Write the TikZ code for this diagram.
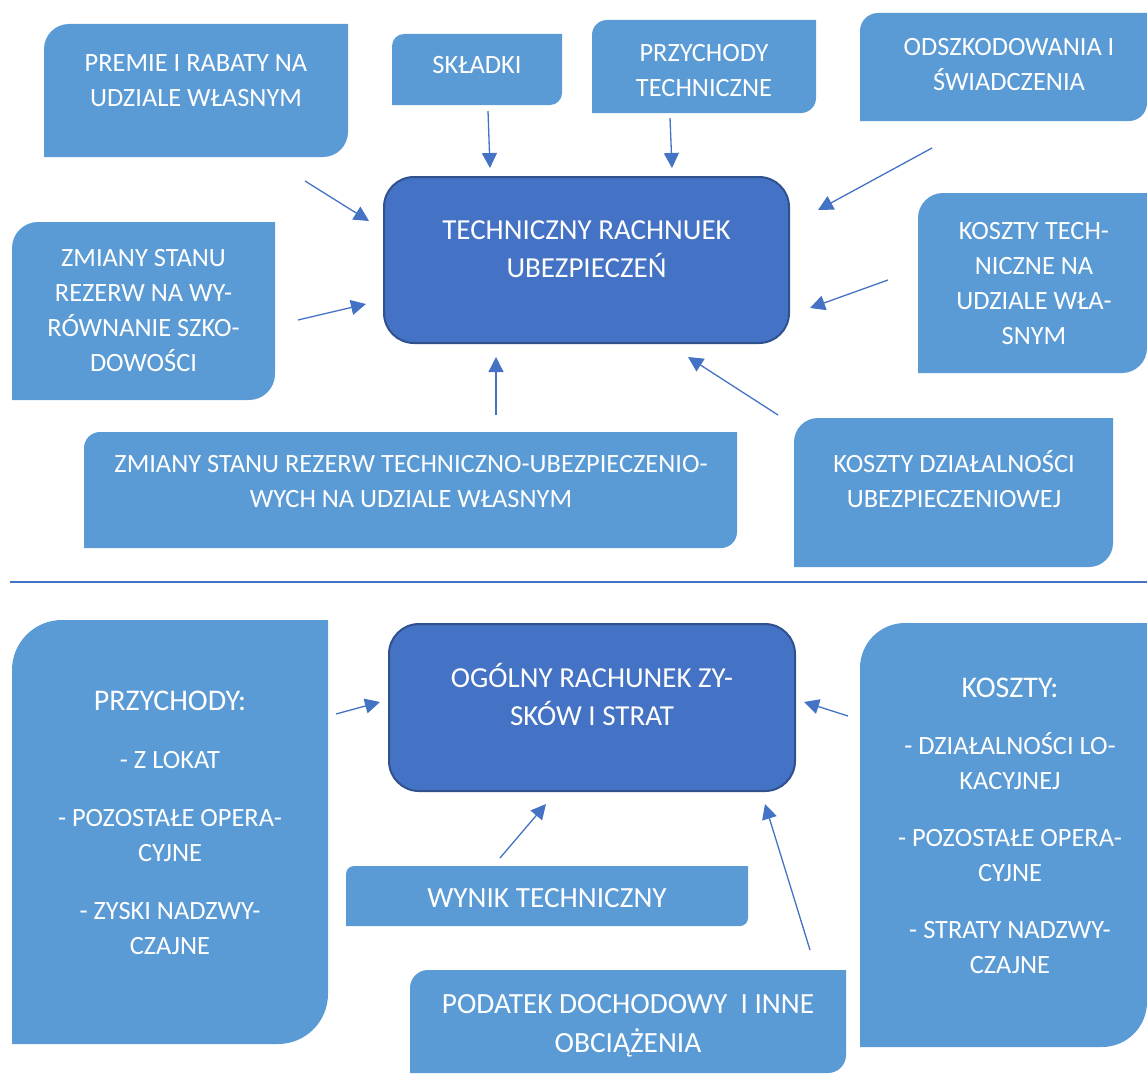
\documentclass[tikz,border=0pt]{standalone}
\usepackage{fontspec}
\setmainfont{Carlito}
\usetikzlibrary{arrows.meta}
\definecolor{boxblue}{HTML}{5B9BD5}
\definecolor{mainblue}{HTML}{4472C4}
\definecolor{edgeblue}{HTML}{2F528F}

% rectangle with rounded top-left and bottom-right corners
% #1 x1, #2 y1, #3 x2, #4 y2, #5 radius
\newcommand\diagbox[5]{%
  \fill[boxblue] (#1,#4) -- (#1,#2+#5)
    .. controls (#1,#2+0.448*#5) and (#1+0.448*#5,#2) .. (#1+#5,#2)
    -- (#3,#2) -- (#3,#4-#5)
    .. controls (#3,#4-0.448*#5) and (#3-0.448*#5,#4) .. (#3-#5,#4)
    -- cycle;}
\newcommand\fstrut{\rule{0pt}{24pt}}
\newcommand\bstrut{\rule{0pt}{26pt}}
\newcommand\headfont{\fontsize{30}{35}\selectfont}

\begin{document}
\begin{tikzpicture}[x=1pt,y=-1pt,
  lbl/.style={text=white, align=center, anchor=north, inner sep=0pt,
    font=\fontsize{26.4}{35}\selectfont},
  biglbl/.style={lbl, font=\fontsize{29.3}{39}\selectfont},
  hubtxt/.style={text=white, align=center, anchor=north, inner sep=0pt,
    font=\fontsize{29}{38.5}\selectfont},
  hub/.style={fill=mainblue, draw=edgeblue, line width=2pt, rounded corners=30pt},
  arr/.style={draw=mainblue, line width=1.3pt, -{Triangle[length=15pt,width=15pt]}}]
\useasboundingbox (0,0) rectangle (1147,1073);

% ---------- technical account ----------
\draw[hub] (384,177) rectangle (789,343);
\node[hubtxt] (tech) at (586.5,239-26) {\bstrut TECHNICZNY RACHNUEK\\UBEZPIECZEŃ};

\diagbox{44}{24}{348}{157}{25}
\node[lbl] (premie) at (196,71-24) {\fstrut PREMIE I RABATY NA\\UDZIALE WŁASNYM};

\diagbox{392}{34}{562}{105}{12}
\node[lbl] (skladki) at (477,73-24) {\fstrut SKŁADKI};

\diagbox{592}{20}{816}{113}{15}
\node[lbl] (przt) at (704,61-24) {\fstrut PRZYCHODY\\TECHNICZNE};

\diagbox{860}{13}{1147}{121}{18}
\node[lbl] (odsz) at (1009,55-24) {\fstrut ODSZKODOWANIA I\\ŚWIADCZENIA};

\diagbox{918}{193}{1147}{373}{25}
\node[lbl] (kt) at (1034,239-24) {\fstrut KOSZTY TECH-\\NICZNE NA\\UDZIALE WŁA-\\SNYM};

\diagbox{12}{222}{275}{400}{26}
\node[lbl] (zsw) at (143.5,266-24) {\fstrut ZMIANY STANU\\REZERW NA WY-\\RÓWNANIE SZKO-\\DOWOŚCI};

\diagbox{84}{432}{737}{548}{16}
\node[lbl] (zst) at (411,472-24) {\fstrut ZMIANY STANU REZERW TECHNICZNO-UBEZPIECZENIO-\\WYCH NA UDZIALE WŁASNYM};

\diagbox{794}{418}{1113}{567}{24}
\node[lbl] (kdu) at (954,472-24) {\fstrut KOSZTY DZIAŁALNOŚCI\\UBEZPIECZENIOWEJ};

% arrow end points
\coordinate (p1s) at (305,181);  \coordinate (p1e) at (369,221);
\coordinate (p2s) at (488,111);  \coordinate (p2e) at (490,168);
\coordinate (p3s) at (670,118);  \coordinate (p3e) at (672,168);
\coordinate (p4s) at (932,148);  \coordinate (p4e) at (818,210);
\coordinate (p5s) at (888,280);  \coordinate (p5e) at (810,308);
\coordinate (p6s) at (298,320);  \coordinate (p6e) at (366,304);
\coordinate (p7s) at (496,415);  \coordinate (p7e) at (496,357);
\coordinate (p8s) at (778,415);  \coordinate (p8e) at (688,357);
\foreach \i in {1,...,8} \draw[arr] (p\i s) -- (p\i e);

% separator
\coordinate (sepl) at (10,582);
\coordinate (sepr) at (1147,582);
\draw[mainblue, line width=1.3pt] (sepl) -- (sepr);

% ---------- general profit and loss account ----------
\draw[hub] (389,624) rectangle (795,791);
\node[hubtxt] (ogol) at (592,687-26) {\bstrut OGÓLNY RACHUNEK ZY-\\SKÓW I STRAT};

\diagbox{12}{620}{328}{1044}{50}
\node[lbl] (przy) at (170,710-24) {\fstrut{\headfont PRZYCHODY:}\\[23pt]- Z LOKAT\\[23pt]- POZOSTAŁE OPERA-\\CYJNE\\[23pt]- ZYSKI NADZWY-\\CZAJNE};

\diagbox{860}{623}{1147}{1047}{45}
\node[lbl] (koszty) at (1010,697-24) {\fstrut{\headfont KOSZTY:}\\[22pt]- DZIAŁALNOŚCI LO-\\KACYJNEJ\\[22pt]- POZOSTAŁE OPERA-\\CYJNE\\[22pt]- STRATY NADZWY-\\CZAJNE};

\diagbox{346}{866}{748}{926}{8}
\node[biglbl] (wynik) at (547,907-26) {\bstrut WYNIK TECHNICZNY};

\diagbox{410}{970}{846}{1073}{18}
\node[biglbl] (podatek) at (628,1013-26) {\bstrut PODATEK DOCHODOWY~ I INNE\\OBCIĄŻENIA};

\coordinate (q1s) at (336,714);  \coordinate (q1e) at (380,702);
\coordinate (q2s) at (848,716);  \coordinate (q2e) at (804,702);
\coordinate (q3s) at (500,858);  \coordinate (q3e) at (546,804);
\coordinate (q4s) at (810,950);  \coordinate (q4e) at (765,804);
\foreach \i in {1,...,4} \draw[arr] (q\i s) -- (q\i e);
\end{tikzpicture}
\end{document}
